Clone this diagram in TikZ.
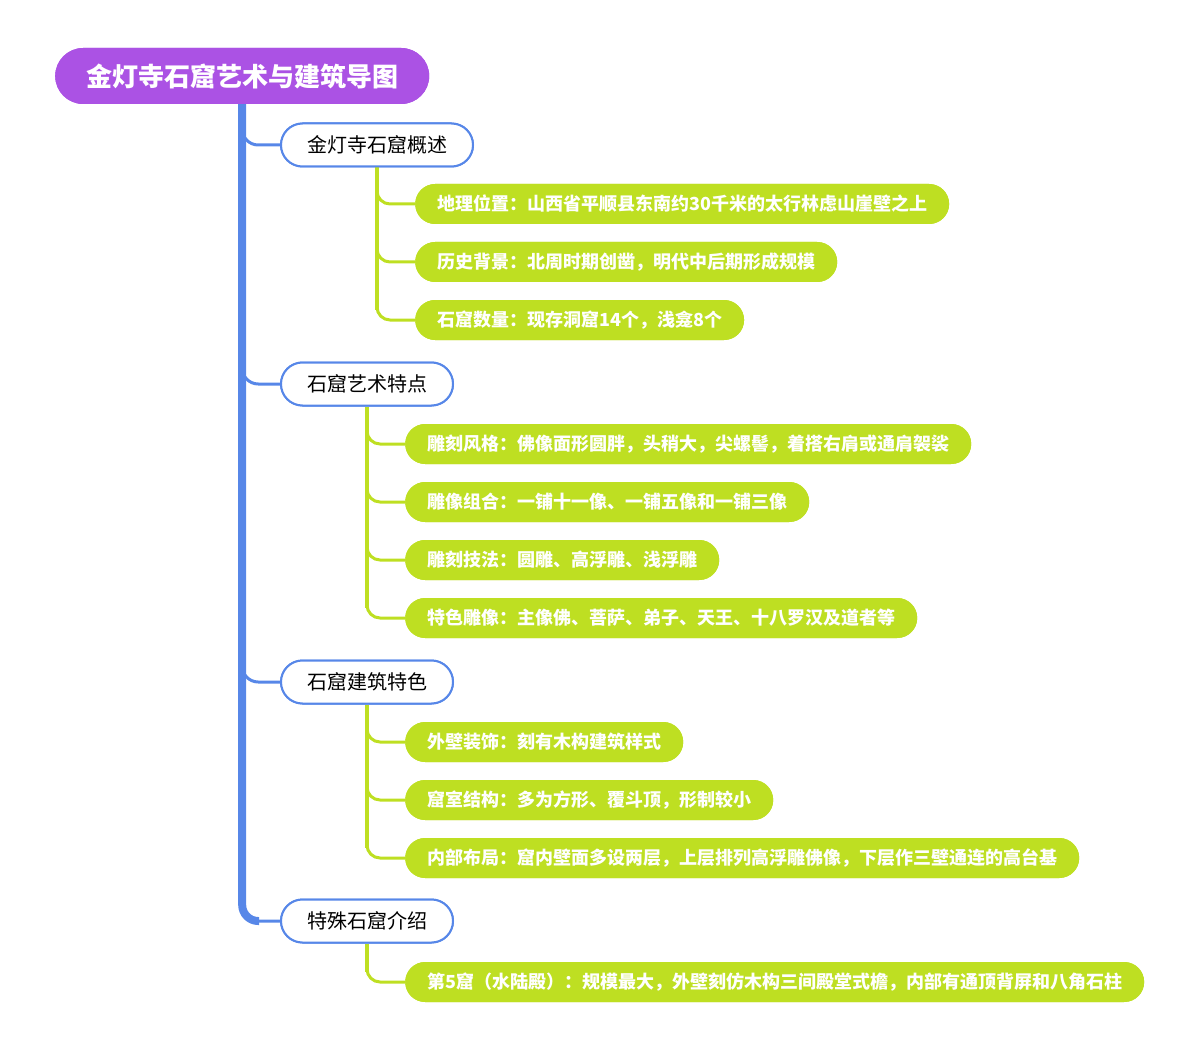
\documentclass[tikz,border=0pt]{standalone}
\usepackage{fontspec}
\setmainfont{Noto Sans CJK SC}
\newfontfamily\cjk{Noto Sans CJK SC}
\definecolor{rootc}{HTML}{AB52E4}
\definecolor{bluec}{HTML}{5787E8}
\definecolor{greenc}{HTML}{BEDF22}
\tikzset{
  rootnode/.style={fill=rootc, text=white, font=\cjk\bfseries\fontsize{26}{30}\selectfont,
    rounded corners=28pt, minimum height=56pt, inner xsep=31pt, inner ysep=0pt, anchor=west},
  topic/.style={draw=bluec, line width=2pt, fill=white, text=black, font=\cjk\fontsize{20}{24}\selectfont,
    rounded corners=21.5pt, minimum height=43pt, inner xsep=26pt, inner ysep=0pt, anchor=west},
  leaf/.style={fill=greenc, text=white, font=\cjk\bfseries\fontsize{18}{22}\selectfont,
    rounded corners=20pt, minimum height=40pt, inner xsep=22pt, inner ysep=0pt, anchor=west},
  trunk/.style={draw=bluec, line width=8pt, rounded corners=16pt},
  branch/.style={draw=bluec, line width=3pt, rounded corners=16pt},
  gtrunk/.style={draw=greenc, line width=4.5pt},
  gbranch/.style={draw=greenc, line width=3pt, rounded corners=13pt},
}
\begin{document}
\begin{tikzpicture}[x=1pt,y=-1pt]
\useasboundingbox (0,0) rectangle (1200,1051);

\node[rootnode] (root) at (55,76) {金灯寺石窟艺术与建筑导图};

\node[topic] (t1) at (280,145) {金灯寺石窟概述};
\node[topic] (t2) at (280,384) {石窟艺术特点};
\node[topic] (t3) at (280,682) {石窟建筑特色};
\node[topic] (t4) at (280,921) {特殊石窟介绍};

\node[leaf] (a1) at (415,204) {地理位置：山西省平顺县东南约30千米的太行林虑山崖壁之上};
\node[leaf] (a2) at (415,262) {历史背景：北周时期创凿，明代中后期形成规模};
\node[leaf] (a3) at (415,320) {石窟数量：现存洞窟14个，浅龛8个};

\node[leaf] (b1) at (405,444) {雕刻风格：佛像面形圆胖，头稍大，尖螺髻，着搭右肩或通肩袈裟};
\node[leaf] (b2) at (405,502) {雕像组合：一铺十一像、一铺五像和一铺三像};
\node[leaf] (b3) at (405,560) {雕刻技法：圆雕、高浮雕、浅浮雕};
\node[leaf] (b4) at (405,618) {特色雕像：主像佛、菩萨、弟子、天王、十八罗汉及道者等};

\node[leaf] (c1) at (405,742) {外壁装饰：刻有木构建筑样式};
\node[leaf] (c2) at (405,800) {窟室结构：多为方形、覆斗顶，形制较小};
\node[leaf] (c3) at (405,858) {内部布局：窟内壁面多设两层，上层排列高浮雕佛像，下层作三壁通连的高台基};

\node[leaf] (d1) at (405,982) {第5窟（水陆殿）：规模最大，外壁刻仿木构三间殿堂式檐，内部有通顶背屏和八角石柱};

% blue trunk and branches
\draw[trunk] (root.south) |- ([xshift=-21pt]t4.west);
\foreach \t in {t1,t2,t3,t4}
  \draw[branch] ([yshift=24pt]root.south |- \t.west) |- (\t.west);

% green connectors
\draw[gtrunk] (t1.south) -- ([yshift=10pt]t1.south |- a3.west);
\foreach \l in {a1,a2,a3} \draw[gbranch] ([yshift=20pt]t1.south |- \l.west) |- (\l.west);

\draw[gtrunk] (t2.south) -- ([yshift=10pt]t2.south |- b4.west);
\foreach \l in {b1,b2,b3,b4} \draw[gbranch] ([yshift=20pt]t2.south |- \l.west) |- (\l.west);

\draw[gtrunk] (t3.south) -- ([yshift=10pt]t3.south |- c3.west);
\foreach \l in {c1,c2,c3} \draw[gbranch] ([yshift=20pt]t3.south |- \l.west) |- (\l.west);

\draw[gtrunk] (t4.south) -- ([yshift=10pt]t4.south |- d1.west);
\draw[gbranch] ([yshift=20pt]t4.south |- d1.west) |- (d1.west);

% redraw nodes on top of connectors
\node[rootnode] at (55,76) {金灯寺石窟艺术与建筑导图};
\node[topic] at (280,145) {金灯寺石窟概述};
\node[topic] at (280,384) {石窟艺术特点};
\node[topic] at (280,682) {石窟建筑特色};
\node[topic] at (280,921) {特殊石窟介绍};
\node[leaf] at (415,204) {地理位置：山西省平顺县东南约30千米的太行林虑山崖壁之上};
\node[leaf] at (415,262) {历史背景：北周时期创凿，明代中后期形成规模};
\node[leaf] at (415,320) {石窟数量：现存洞窟14个，浅龛8个};
\node[leaf] at (405,444) {雕刻风格：佛像面形圆胖，头稍大，尖螺髻，着搭右肩或通肩袈裟};
\node[leaf] at (405,502) {雕像组合：一铺十一像、一铺五像和一铺三像};
\node[leaf] at (405,560) {雕刻技法：圆雕、高浮雕、浅浮雕};
\node[leaf] at (405,618) {特色雕像：主像佛、菩萨、弟子、天王、十八罗汉及道者等};
\node[leaf] at (405,742) {外壁装饰：刻有木构建筑样式};
\node[leaf] at (405,800) {窟室结构：多为方形、覆斗顶，形制较小};
\node[leaf] at (405,858) {内部布局：窟内壁面多设两层，上层排列高浮雕佛像，下层作三壁通连的高台基};
\node[leaf] at (405,982) {第5窟（水陆殿）：规模最大，外壁刻仿木构三间殿堂式檐，内部有通顶背屏和八角石柱};
\end{tikzpicture}
\end{document}
